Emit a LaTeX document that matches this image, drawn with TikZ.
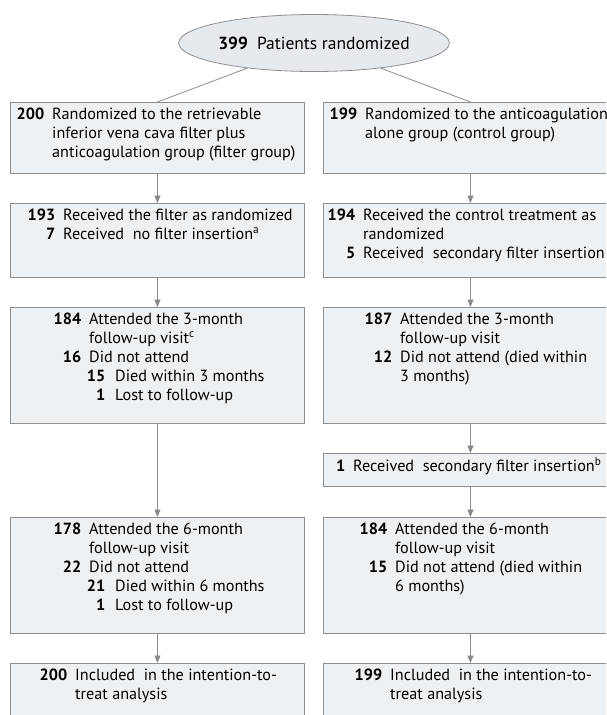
\documentclass[tikz,border=0pt]{standalone}
\usepackage{fontspec}
\setmainfont{PT Sans}
\usetikzlibrary{shapes.geometric,arrows.meta}
\definecolor{boxfill}{HTML}{EEF1F4}
\definecolor{ovalfill}{HTML}{E6E9ED}
\definecolor{boxline}{HTML}{8E8E8E}
\definecolor{arrline}{HTML}{8A8A8A}
\newcommand\numc[2]{\makebox[#1pt][r]{\bfseries #2}\hspace{8pt}}
\newcommand\subn[1]{\makebox[16pt][r]{\bfseries #1}\hspace{10pt}}
\newcommand\supr[1]{\textsuperscript{#1}}
\tikzset{
  flowbox/.style={draw=boxline, fill=boxfill, line width=0.9pt, rectangle,
    minimum width=294pt, inner sep=0pt, anchor=north west},
  ovalbox/.style={draw=boxline, fill=ovalfill, line width=0.8pt, ellipse,
    minimum width=204pt, minimum height=57pt, inner sep=0pt, font=\fontsize{17.5}{19}\selectfont},
  txt/.style={anchor=north west, inner sep=0pt, align=left, font=\fontsize{16.2}{19}\selectfont},
  arr/.style={draw=arrline, line width=0.8pt, -{Triangle[width=6pt,length=7.5pt]}},
  link/.style={draw=arrline, line width=0.8pt},
}
\begin{document}
\begin{tikzpicture}[x=1pt,y=-1pt]
\useasboundingbox (0,0) rectangle (606,715);
\clip (0,0) rectangle (606,715);
% ellipse
\node[ovalbox] (E) at (314,43) {\textbf{399}\hspace{9pt}Patients randomized};
% left column boxes
\node[flowbox, minimum height=71pt]  (L1) at (10,102) {};
\node[flowbox, minimum height=74pt]  (L2) at (10,203) {};
\node[flowbox, minimum height=116pt] (L3) at (10,307) {};
\node[flowbox, minimum height=116pt] (L4) at (10,517) {};
\node[flowbox, minimum height=70pt]  (L5) at (10,663) {};
% right column boxes
\node[flowbox, minimum height=71pt]  (R1) at (323,102) {};
\node[flowbox, minimum height=74pt]  (R2) at (323,203) {};
\node[flowbox, minimum height=116pt] (R3) at (323,307) {};
\node[flowbox, minimum height=33pt]  (RS) at (323,453) {};
\node[flowbox, minimum height=116pt] (R4) at (323,517) {};
\node[flowbox, minimum height=70pt]  (R5) at (323,663) {};
% connectors
\draw[link] (E) -- (L1.north);
\draw[link] (E) -- (R1.north);
\draw[arr] (L1.south) -- (L2.north);
\draw[arr] (L2.south) -- (L3.north);
\draw[arr] (L3.south) -- (L4.north);
\draw[arr] (L4.south) -- (L5.north);
\draw[arr] (R1.south) -- (R2.north);
\draw[arr] (R2.south) -- (R3.north);
\draw[arr] (R3.south) -- (RS.north);
\draw[arr] (RS.south) -- (R4.north);
\draw[arr] (R4.south) -- (R5.north);
% left texts
\node[txt] (tL1) at (17,106) {\strut\numc{27}{200}Randomized to the retrievable\\\numc{27}{}inferior vena cava filter plus\\\numc{27}{}anticoagulation group (filter group)};
\node[txt] (tL2) at (25,207) {\strut\numc{30}{193}Received the filter as randomized\\\numc{30}{7}Received\ \ no filter insertion\supr{a}};
\node[txt] (tL3) at (53,311) {\strut\numc{28}{184}Attended the 3-month\\\numc{28}{}follow-up visit\supr{c}\\\numc{28}{16}Did not attend\\\numc{28}{}\subn{15}Died within 3 months\\\numc{28}{}\subn{1}Lost to follow-up};
\node[txt] (tL4) at (53,521) {\strut\numc{28}{178}Attended the 6-month\\\numc{28}{}follow-up visit\\\numc{28}{22}Did not attend\\\numc{28}{}\subn{21}Died within 6 months\\\numc{28}{}\subn{1}Lost to follow-up};
\node[txt] (tL5) at (39,667) {\strut\numc{28}{200}Included\ \ in the intention-to-\\\numc{28}{}treat analysis};
% right texts
\node[txt] (tR1) at (331,106) {\strut\numc{26}{199}Randomized to the anticoagulation\\\numc{26}{}alone group (control group)};
\node[txt] (tR2) at (327,207) {\strut\numc{28}{194}Received the control treatment as\\\numc{28}{}randomized\\\numc{28}{5}Received\ \ secondary filter insertion};
\node[txt] (tR3) at (366,311) {\strut\numc{26}{187}Attended the 3-month\\\numc{26}{}follow-up visit\\\numc{26}{12}Did not attend (died within\\\numc{26}{}3 months)};
\node[txt] (tRS) at (337,457) {\strut\numc{8}{1}Received\ \ secondary filter insertion\supr{b}};
\node[txt] (tR4) at (357,521) {\strut\numc{30}{184}Attended the 6-month\\\numc{30}{}follow-up visit\\\numc{30}{15}Did not attend (died within\\\numc{30}{}6 months)};
\node[txt] (tR5) at (353,667) {\strut\numc{29}{199}Included\ \ in the intention-to-\\\numc{29}{}treat analysis};
\end{tikzpicture}
\end{document}
